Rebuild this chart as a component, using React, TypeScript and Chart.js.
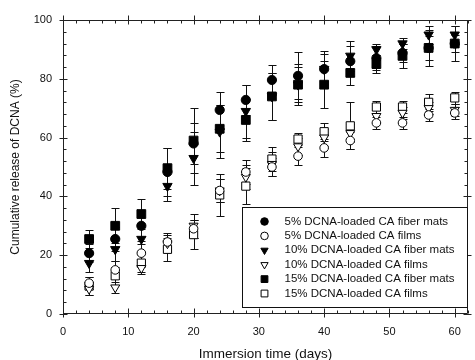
import React, { useEffect, useRef } from 'react';
import { Chart, registerables } from 'chart.js';

Chart.register(...registerables);

// ---- data ----
const days = [4, 8, 12, 16, 20, 24, 28, 32, 36, 40, 44, 48, 52, 56, 60];
const fiber5 = [20.7, 25.5, 30, 48.3, 58, 69.4, 72.8, 79.6, 81, 83.3, 86, 87, 88.8, 90.5, 92];
const fiber5Err = [3, 4, 5, 8, 7, 6, 5, 5, 8, 6, 5, 4, 3, 4, 3];
const films5 = [10.5, 15, 20.7, 24.5, 29, 42, 48.3, 50, 53.7, 56.5, 59, 65, 65, 67.7, 68.4];
const films5Err = [2, 3, 3, 3, 3, 4, 4, 3, 3, 3, 3, 2, 2, 2, 2];
const fiber10 = [17.3, 22, 25.5, 43.5, 53, 62, 69, 74, 78, 83.3, 87.8, 90, 92, 95, 95];
const fiber10Err = [3, 4, 4, 5, 9, 9, 9, 8, 6, 5, 5, 2, 2, 3, 3];
const films10 = [8.5, 9, 15.6, 24, 30, 42, 46.6, 51, 57, 60, 61.5, 67.3, 68.4, 70, 69.4];
const films10Err = [2, 2, 2, 3, 4, 4, 4, 4, 3, 3, 3, 2, 2, 2, 2];
const fiber15 = [25.5, 30, 34, 49.6, 59, 63, 66, 74, 78, 78, 82, 85, 87.8, 90.5, 92];
const fiber15Err = [3, 6, 5, 7, 11, 8, 7, 8, 7, 8, 4, 3, 4, 6, 6];
const films15 = [9.5, 13, 17.3, 22, 27, 40.5, 43.5, 52.7, 59.5, 62, 64, 70.4, 70.4, 72, 73.5];
const films15Err = [3, 3, 3, 4, 5, 7, 6, 4, 2, 3, 8, 2, 2, 3, 2];

const xTicks = [0, 10, 20, 30, 40, 50, 60];
const yTicks = [0, 20, 40, 60, 80, 100];
const xMinorStep = 2;
const yMinorStep = 4;

const labels = [
  '5% DCNA-loaded CA fiber mats',
  '5% DCNA-loaded CA films',
  '10% DCNA-loaded CA fiber mats',
  '10% DCNA-loaded CA films',
  '15% DCNA-loaded CA fiber mats',
  '15% DCNA-loaded CA films',
];
const values = [fiber5, films5, fiber10, films10, fiber15, films15];
const errors = [fiber5Err, films5Err, fiber10Err, films10Err, fiber15Err, films15Err];
const styles = ['circle', 'circle', 'triangle', 'triangle', 'rect', 'rect'];
const filled = [true, false, true, false, true, false];
const radii = [4.6, 4.3, 5.4, 5.2, 6.2, 5.8];

const FONT = "'Liberation Sans', Arial, sans-serif";
const INK = '#111';

function drawMarker(ctx: CanvasRenderingContext2D, style: string, fill: boolean, x: number, y: number, s: number) {
  ctx.beginPath();
  if (style === 'circle') {
    ctx.arc(x, y, s, 0, Math.PI * 2);
  } else if (style === 'triangle') {
    const h = s * 1.5;
    const w = s * Math.sqrt(3);
    ctx.moveTo(x - w / 2, y - h / 3);
    ctx.lineTo(x + w / 2, y - h / 3);
    ctx.lineTo(x, y + (2 * h) / 3);
    ctx.closePath();
  } else {
    const a = s * Math.SQRT1_2;
    ctx.rect(x - a, y - a, 2 * a, 2 * a);
  }
  ctx.fillStyle = fill ? '#000' : '#fff';
  ctx.fill();
  ctx.strokeStyle = '#000';
  ctx.lineWidth = 1;
  ctx.stroke();
}

const errorBars = {
  id: 'errorBars',
  beforeDatasetsDraw(chart: any) {
    const { ctx, scales } = chart;
    const xs = scales.x;
    const ys = scales.y;
    ctx.save();
    ctx.strokeStyle = INK;
    ctx.lineWidth = 1;
    chart.data.datasets.forEach((ds: any) => {
      ds.data.forEach((pt: any, j: number) => {
        const e = ds.errors[j];
        const px = Math.round(xs.getPixelForValue(pt.x)) + 0.5;
        const yT = Math.round(ys.getPixelForValue(pt.y + e)) + 0.5;
        const yB = Math.round(ys.getPixelForValue(pt.y - e)) + 0.5;
        ctx.beginPath();
        ctx.moveTo(px, yT);
        ctx.lineTo(px, yB);
        ctx.moveTo(px - 4, yT);
        ctx.lineTo(px + 4, yT);
        ctx.moveTo(px - 4, yB);
        ctx.lineTo(px + 4, yB);
        ctx.stroke();
      });
    });
    ctx.restore();
  },
};

const frame = {
  id: 'frame',
  afterDatasetsDraw(chart: any) {
    const { ctx, chartArea, scales } = chart;
    const { left, right, top, bottom } = chartArea;
    const xs = scales.x;
    const ys = scales.y;
    const L = Math.round(left) + 0.5;
    const R = Math.round(right) - 0.5;
    const T = Math.round(top) + 0.5;
    const B = Math.round(bottom) - 0.5;
    ctx.save();
    ctx.strokeStyle = '#222';
    ctx.lineWidth = 1;
    ctx.beginPath();
    ctx.rect(L, T, R - L, B - T);
    // x ticks
    for (let v = 0; v <= xs.max + 1e-6; v += xMinorStep) {
      const px = Math.round(xs.getPixelForValue(v)) + 0.5;
      const major = xTicks.includes(v);
      if (major) {
        ctx.moveTo(px, B + 4); ctx.lineTo(px, B - 5);
        ctx.moveTo(px, T - 5); ctx.lineTo(px, T + 4);
      } else {
        ctx.moveTo(px, B); ctx.lineTo(px, B - 3);
        ctx.moveTo(px, T); ctx.lineTo(px, T + 3);
      }
    }
    for (let v = 0; v <= ys.max + 1e-6; v += yMinorStep) {
      const py = Math.round(ys.getPixelForValue(v)) + 0.5;
      const major = yTicks.includes(v);
      if (major) {
        ctx.moveTo(L - 4, py); ctx.lineTo(L + 4, py);
        ctx.moveTo(R - 4, py); ctx.lineTo(R + 4, py);
      } else {
        ctx.moveTo(L, py); ctx.lineTo(L + 3, py);
        ctx.moveTo(R, py); ctx.lineTo(R - 3, py);
      }
    }
    ctx.stroke();
    ctx.restore();
  },
};

const legendBox = {
  id: 'legendBox',
  afterDraw(chart: any) {
    const { ctx, chartArea } = chart;
    const w = 225;
    const h = 100;
    const x0 = Math.round(chartArea.right) - 1 - w + 0.5;
    const y0 = Math.round(chartArea.bottom) - 7 - h + 0.5;
    ctx.save();
    ctx.fillStyle = '#fff';
    ctx.fillRect(x0, y0, w, h);
    ctx.strokeStyle = '#111';
    ctx.lineWidth = 1;
    ctx.strokeRect(x0, y0, w, h);
    ctx.font = `11.5px ${FONT}`;
    ctx.textBaseline = 'middle';
    ctx.textAlign = 'left';
    labels.forEach((lab, i) => {
      const cy = y0 + 14 + i * 14.4;
      drawMarker(ctx, styles[i], filled[i], x0 + 22, cy, styles[i] === 'triangle' ? 4.2 : styles[i] === 'rect' ? 4.8 : 3.8);
      ctx.fillStyle = INK;
      ctx.fillText(lab, x0 + 42, cy);
    });
    ctx.restore();
  },
};

export default function App() {
  const ref = useRef<HTMLCanvasElement | null>(null);
  useEffect(() => {
    if (!ref.current) return;
    const datasets = labels.map((lab, i) => ({
      label: lab,
      data: days.map((d, j) => ({ x: d, y: values[i][j] })),
      errors: errors[i],
      pointStyle: styles[i],
      pointRadius: radii[i],
      pointRotation: styles[i] === 'triangle' ? 180 : 0,
      backgroundColor: filled[i] ? '#000' : '#fff',
      borderColor: '#000',
      borderWidth: 1,
      showLine: false,
    }));
    const chart = new Chart(ref.current, {
      type: 'scatter',
      data: { datasets } as any,
      options: {
        animation: false,
        responsive: false,
        devicePixelRatio: 1,
        layout: { padding: { top: 20, right: 2, left: 0, bottom: 0 } },
        plugins: { legend: { display: false }, tooltip: { enabled: false } },
        scales: {
          x: {
            type: 'linear',
            min: 0,
            max: 62,
            grid: { display: false, drawTicks: false },
            border: { display: false },
            afterBuildTicks: (s: any) => { s.ticks = xTicks.map((v) => ({ value: v })); },
            afterFit: (s: any) => { s.height = 46; },
            ticks: { padding: 11, color: INK, font: { family: FONT, size: 11 } },
            title: {
              display: true,
              text: 'Immersion time (days)',
              color: INK,
              font: { family: FONT, size: 13.5, lineHeight: 0.9 },
              padding: { top: 0, bottom: 0 },
            },
          },
          y: {
            type: 'linear',
            min: 0,
            max: 100,
            grid: { display: false, drawTicks: false },
            border: { display: false },
            afterBuildTicks: (s: any) => { s.ticks = yTicks.map((v) => ({ value: v })); },
            afterFit: (s: any) => { s.width = 63; },
            ticks: { padding: 11, color: INK, font: { family: FONT, size: 11 } },
            title: {
              display: true,
              text: 'Cumulative release of DCNA (%)',
              color: INK,
              font: { family: FONT, size: 12 },
              padding: { top: 8, bottom: 0 },
            },
          },
        },
      } as any,
      plugins: [errorBars, frame, legendBox],
    });
    return () => chart.destroy();
  }, []);
  return (
    <div style={{ position: 'absolute', left: 0, top: 0, width: 475, height: 360, background: '#fff' }}>
      <canvas ref={ref} width={475} height={360} style={{ display: 'block' }} />
    </div>
  );
}
